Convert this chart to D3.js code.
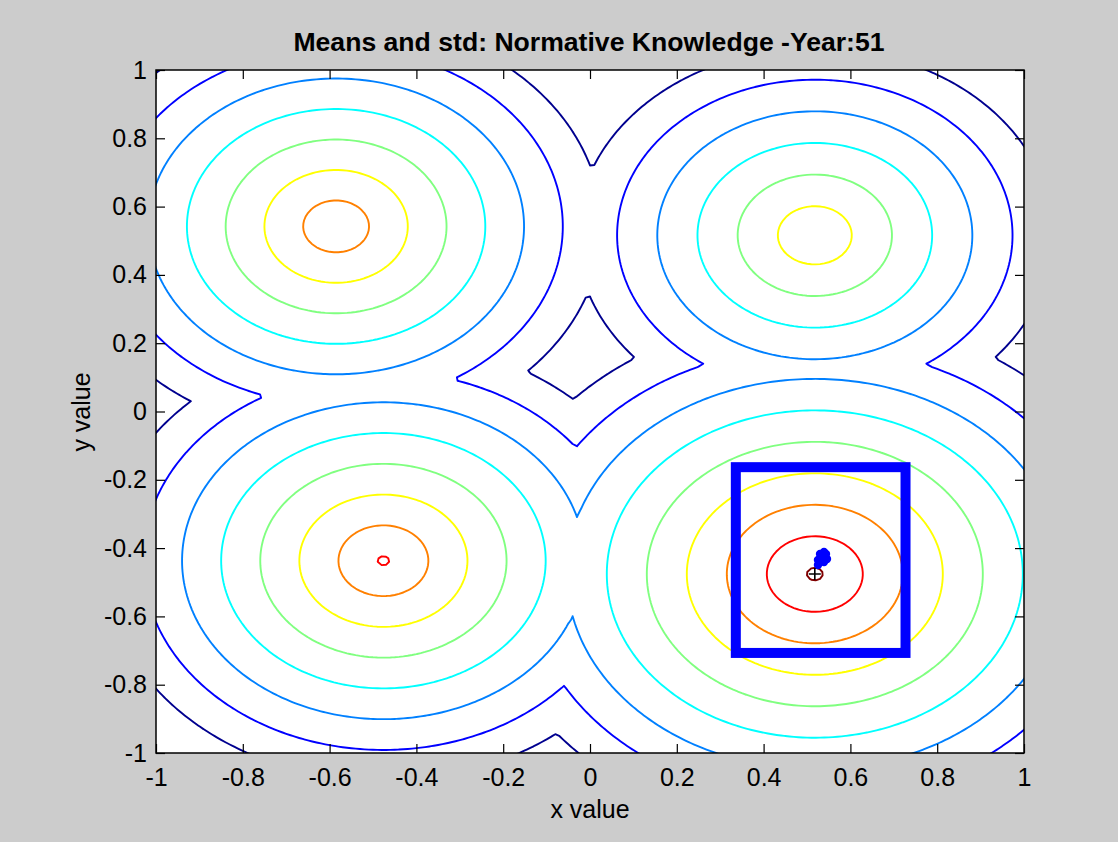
<!DOCTYPE html>
<html>
<head>
<meta charset="utf-8">
<script src="https://cdn.jsdelivr.net/npm/d3@7"></script>
<style>
  html, body { margin: 0; padding: 0; background: #cccccc; }
  svg { display: block; }
  text { font-family: "Liberation Sans", Arial, Helvetica, sans-serif; fill: #000; }
</style>
</head>
<body>
<svg id="chart" width="1118" height="842"></svg>
<script>
// Cone landscape: each cone has a centre, a peak height and a slope
const peakX     = [-0.585, 0.518, -0.476, 0.518];
const peakY     = [ 0.542, 0.516, -0.437, -0.476];
const peakH     = [ 7.85,  6.92,   8.15,   9.20];
const peakSlope = [11.2,  10.8,   11.1,   10.85];

// Contour levels and their jet colours
const levels      = [1, 2, 3, 4, 5, 6, 7, 8, 9];
const levelColors = ["#00008f", "#0000ff", "#0080ff", "#00ffff", "#80ff80",
                     "#ffff00", "#ff8000", "#ff0000", "#800000"];

// Normative knowledge interval (x range, y range)
const normX = [0.336, 0.727];
const normY = [-0.707, -0.163];

// Population members
const popX = [0.5346, 0.5438, 0.5253, 0.5392, 0.5461, 0.5300, 0.5392, 0.5253];
const popY = [-0.4260, -0.4172, -0.4348, -0.4407, -0.4319, -0.4172, -0.4114, -0.4495];

// Best known location
const bestX = [0.518];
const bestY = [-0.476];

// Axis ticks
const xTicks = [-1, -0.8, -0.6, -0.4, -0.2, 0, 0.2, 0.4, 0.6, 0.8, 1];
const xTickLabels = ["-1", "-0.8", "-0.6", "-0.4", "-0.2", "0", "0.2", "0.4", "0.6", "0.8", "1"];
const yTicks = [-1, -0.8, -0.6, -0.4, -0.2, 0, 0.2, 0.4, 0.6, 0.8, 1];
const yTickLabels = ["-1", "-0.8", "-0.6", "-0.4", "-0.2", "0", "0.2", "0.4", "0.6", "0.8", "1"];

const titleText = "Means and std: Normative Knowledge -Year:51";
const xLabel = "x value";
const yLabel = "y value";

const svg = d3.select("#chart");
const pLeft = 156, pRight = 1024, pTop = 70, pBottom = 753;

const x = d3.scaleLinear().domain([-1, 1]).range([pLeft, pRight]);
const y = d3.scaleLinear().domain([-1, 1]).range([pBottom, pTop]);

// plot background
svg.append("rect")
  .attr("x", pLeft).attr("y", pTop)
  .attr("width", pRight - pLeft).attr("height", pBottom - pTop)
  .attr("fill", "#ffffff");

svg.append("clipPath").attr("id", "plotClip")
  .append("rect")
  .attr("x", pLeft).attr("y", pTop)
  .attr("width", pRight - pLeft).attr("height", pBottom - pTop);

// sample the landscape on a grid that extends past the axes
const g0 = -1.1, step = 0.01, n = 221;
const field = new Float64Array(n * n);
for (let j = 0; j < n; j++) {
  const gy = g0 + j * step;
  for (let i = 0; i < n; i++) {
    const gx = g0 + i * step;
    let v = -Infinity;
    for (let k = 0; k < peakX.length; k++) {
      const d = Math.hypot(gx - peakX[k], gy - peakY[k]);
      v = Math.max(v, peakH[k] - peakSlope[k] * d);
    }
    field[j * n + i] = v;
  }
}

const contours = d3.contours().size([n, n]).thresholds(levels)(field);
const toPx = d3.geoTransform({
  point: function (cx, cy) {
    this.stream.point(x(g0 + (cx - 0.5) * step), y(g0 + (cy - 0.5) * step));
  }
});
const path = d3.geoPath(toPx);
const colorOf = d3.scaleOrdinal().domain(levels).range(levelColors);

const plot = svg.append("g").attr("clip-path", "url(#plotClip)");
plot.selectAll("path.contour")
  .data(contours)
  .join("path")
  .attr("class", "contour")
  .attr("d", path)
  .attr("fill", "none")
  .attr("stroke", d => colorOf(d.value))
  .attr("stroke-width", 1.9)
  .attr("stroke-linejoin", "round");

// normative knowledge box
plot.append("rect")
  .attr("x", x(normX[0]))
  .attr("y", y(normY[1]))
  .attr("width", x(normX[1]) - x(normX[0]))
  .attr("height", y(normY[0]) - y(normY[1]))
  .attr("fill", "none")
  .attr("stroke", "#0000ff")
  .attr("stroke-width", 10)
  .attr("stroke-linejoin", "miter");

// population
plot.selectAll("circle.pop")
  .data(d3.range(popX.length))
  .join("circle")
  .attr("class", "pop")
  .attr("cx", i => x(popX[i]))
  .attr("cy", i => y(popY[i]))
  .attr("r", 4.2)
  .attr("fill", "#0000ff");

// best location marker
plot.selectAll("path.best")
  .data(d3.range(bestX.length))
  .join("path")
  .attr("class", "best")
  .attr("d", i => {
    const cx = x(bestX[i]), cy = y(bestY[i]), s = 6;
    return `M${cx - s},${cy}H${cx + s}M${cx},${cy - s}V${cy + s}`;
  })
  .attr("stroke", "#000")
  .attr("stroke-width", 1.6);

// axes with inward ticks on all four sides
const tickLen = 9;
const axB = svg.append("g").attr("transform", `translate(0,${pBottom})`)
  .call(d3.axisBottom(x).tickValues(xTicks).tickSize(-tickLen).tickPadding(15)
    .tickFormat((d, i) => xTickLabels[i]));
const axL = svg.append("g").attr("transform", `translate(${pLeft},0)`)
  .call(d3.axisLeft(y).tickValues(yTicks).tickSize(-tickLen).tickPadding(9)
    .tickFormat((d, i) => yTickLabels[i]));
const axT = svg.append("g").attr("transform", `translate(0,${pTop})`)
  .call(d3.axisTop(x).tickValues(xTicks).tickSize(-tickLen).tickFormat(""));
const axR = svg.append("g").attr("transform", `translate(${pRight},0)`)
  .call(d3.axisRight(y).tickValues(yTicks).tickSize(-tickLen).tickFormat(""));

[axB, axL, axT, axR].forEach(a => {
  a.select(".domain").remove();
  a.selectAll(".tick line").attr("stroke", "#000").attr("stroke-width", 1.2);
  a.selectAll("text")
    .style("font-family", '"Liberation Sans", Arial, Helvetica, sans-serif')
    .style("font-size", "25px")
    .attr("fill", "#000");
});

svg.append("rect")
  .attr("x", pLeft).attr("y", pTop)
  .attr("width", pRight - pLeft).attr("height", pBottom - pTop)
  .attr("fill", "none")
  .attr("stroke", "#000")
  .attr("stroke-width", 1.5);

// titles
svg.append("text")
  .attr("x", 589).attr("y", 51)
  .attr("text-anchor", "middle")
  .style("font-size", "26.6px")
  .style("font-weight", "bold")
  .text(titleText);

svg.append("text")
  .attr("x", 590).attr("y", 818)
  .attr("text-anchor", "middle")
  .style("font-size", "25px")
  .text(xLabel);

svg.append("text")
  .attr("transform", "translate(90,412) rotate(-90)")
  .attr("text-anchor", "middle")
  .style("font-size", "25px")
  .text(yLabel);
</script>
</body>
</html>
